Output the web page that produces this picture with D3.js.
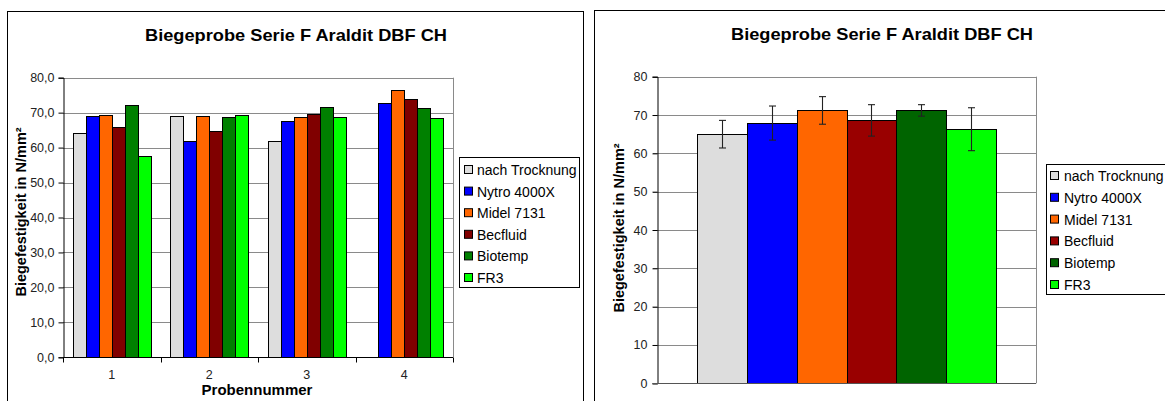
<!DOCTYPE html>
<html>
<head>
<meta charset="utf-8">
<script src="https://cdn.jsdelivr.net/npm/d3@7"></script>
<style>
  html, body { margin: 0; padding: 0; background: #fff; }
  svg { display: block; font-family: "Liberation Sans", Arial, sans-serif; }
</style>
</head>
<body>
<svg id="chart" width="1165" height="401"></svg>
<script>
// Series names (oils) and sample numbers
const seriesNames = ["nach Trocknung", "Nytro 4000X", "Midel 7131", "Becfluid", "Biotemp", "FR3"];
const probeLabels = ["1", "2", "3", "4"];

// Bending strength per sample, one array per series (N/mm²)
const nachTrocknung = [64.1, 69.1, 61.8, null];
const nytro4000X    = [69.1, 61.8, 67.5, 72.7];
const midel7131     = [69.4, 69.1, 68.8, 76.5];
const becfluid      = [65.8, 64.8, 69.6, 73.8];
const biotemp       = [72.1, 68.8, 71.5, 71.2];
const fr3           = [57.5, 69.4, 68.7, 68.4];

// Mean values and standard deviations per series
const meanValues = [65.0, 67.9, 71.2, 68.6, 71.2, 66.3];
const stdValues  = [3.6, 4.45, 3.6, 4.1, 1.5, 5.6];

const yTicksLeft  = [0, 10, 20, 30, 40, 50, 60, 70, 80];
const yTicksRight = [0, 10, 20, 30, 40, 50, 60, 70, 80];

const colorsLeft  = ["#dddddd", "#0000ff", "#ff6600", "#800000", "#008000", "#00ff00"];
const colorsRight = ["#dddddd", "#0000ff", "#ff6600", "#990000", "#006400", "#00ff00"];

const perSample = [nachTrocknung, nytro4000X, midel7131, becfluid, biotemp, fr3];

const svg = d3.select("#chart");
svg.append("rect").attr("width", 1165).attr("height", 401).attr("fill", "#fff");

const title = "Biegeprobe Serie F Araldit DBF CH";
const yTitle = "Biegefestigkeit in N/mm²";
const fmt1 = d => d3.format(".1f")(d).replace(".", ",");

function legend(g, x, y, w, h, colors, x0sw, xText, y0, step) {
  g.append("rect").attr("x", x).attr("y", y).attr("width", w).attr("height", h)
    .attr("fill", "#fff").attr("stroke", "#000").attr("stroke-width", 1);
  seriesNames.forEach((name, i) => {
    const cy = y0 + i * step;
    g.append("rect").attr("x", x0sw + 0.5).attr("y", cy - 4.5).attr("width", 8).attr("height", 8)
      .attr("fill", colors[i]).attr("stroke", "#000").attr("stroke-width", 1);
    g.append("text").attr("x", xText).attr("y", cy).attr("dy", "0.36em")
      .attr("font-size", 14).attr("fill", "#000").text(name);
  });
}

// ---------- Left chart: values per sample ----------
{
  const g = svg.append("g");
  g.append("rect").attr("x", 7.5).attr("y", 11.5).attr("width", 576).attr("height", 420)
    .attr("fill", "#fff").attr("stroke", "#000").attr("stroke-width", 1);

  g.append("text").attr("x", 296).attr("y", 41).attr("text-anchor", "middle")
    .attr("font-size", 17).attr("font-weight", "bold")
    .attr("textLength", 302).attr("lengthAdjust", "spacingAndGlyphs").text(title);

  const x = d3.scaleBand().domain(probeLabels).range([63, 453]).padding(0);
  const x1 = d3.scaleBand().domain(seriesNames)
    .range([x.bandwidth() * 0.1, x.bandwidth() * 0.9]).padding(0);
  const y = d3.scaleLinear().domain([0, 80]).range([357.3, 77.7]);

  // grid
  g.selectAll(".grid").data(yTicksLeft.slice(1)).join("line")
    .attr("x1", 63).attr("x2", 453)
    .attr("y1", d => Math.round(y(d)) + 0.5).attr("y2", d => Math.round(y(d)) + 0.5)
    .attr("stroke", "#8a8a8a").attr("stroke-width", 1);
  g.append("line").attr("x1", 453.5).attr("x2", 453.5).attr("y1", y(80)).attr("y2", y(0))
    .attr("stroke", "#8a8a8a");

  // bars
  seriesNames.forEach((s, si) => {
    g.selectAll(".bar" + si).data(probeLabels.map((p, pi) => ({ p, v: perSample[si][pi] }))
      .filter(d => d.v != null)).join("rect")
      .attr("x", d => Math.round(x(d.p) + x1(s)) + 0.5)
      .attr("y", d => Math.round(y(d.v)) + 0.5)
      .attr("width", Math.round(x1.bandwidth()))
      .attr("height", d => Math.round(y(0)) - Math.round(y(d.v)))
      .attr("fill", colorsLeft[si]).attr("stroke", "#000").attr("stroke-width", 1);
  });

  // y axis
  const yAx = g.append("g").attr("transform", "translate(63.5,0)")
    .call(d3.axisLeft(y).tickValues(yTicksLeft).tickSize(5).tickPadding(4).tickFormat(fmt1));
  yAx.select(".domain").attr("stroke", "#000");
  yAx.selectAll(".tick line").attr("stroke", "#000");
  yAx.selectAll("text").attr("font-size", 12.5).attr("fill", "#222").attr("font-family", "Liberation Sans, Arial");

  // x axis with ticks at category boundaries
  const xAx = g.append("g").attr("transform", `translate(0,${Math.round(y(0)) + 0.5})`);
  xAx.append("line").attr("x1", 63).attr("x2", 453).attr("stroke", "#000");
  const bounds = probeLabels.map(p => x(p)).concat([x.range()[1]]);
  xAx.selectAll(".xt").data(bounds).join("line")
    .attr("x1", d => Math.round(d) + 0.5).attr("x2", d => Math.round(d) + 0.5)
    .attr("y1", 0).attr("y2", 5).attr("stroke", "#000");
  xAx.selectAll(".xl").data(probeLabels).join("text")
    .attr("x", d => x(d) + x.bandwidth() / 2).attr("y", 21.5)
    .attr("text-anchor", "middle").attr("font-size", 12.5).attr("fill", "#222").text(d => d);

  g.append("text").attr("x", 257).attr("y", 395).attr("text-anchor", "middle")
    .attr("font-size", 15).attr("font-weight", "bold").text("Probennummer");

  g.append("text").attr("transform", "translate(26,212) rotate(-90)")
    .attr("text-anchor", "middle").attr("font-size", 14.5).attr("font-weight", "bold").text(yTitle);

  legend(g, 459.5, 157.5, 120, 130, colorsLeft, 464, 477, 170, 21.6);
}

// ---------- Right chart: mean values with standard deviation ----------
{
  const g = svg.append("g");
  g.append("rect").attr("x", 594.5).attr("y", 10.5).attr("width", 620).attr("height", 420)
    .attr("fill", "#fff").attr("stroke", "#000").attr("stroke-width", 1);

  g.append("text").attr("x", 882).attr("y", 40).attr("text-anchor", "middle")
    .attr("font-size", 17).attr("font-weight", "bold")
    .attr("textLength", 302).attr("lengthAdjust", "spacingAndGlyphs").text(title);

  const x = d3.scaleBand().domain(seriesNames).range([657, 1036]).paddingOuter(0.8).paddingInner(0);
  const y = d3.scaleLinear().domain([0, 80]).range([383.3, 76.7]);

  g.selectAll(".grid").data(yTicksRight.slice(1)).join("line")
    .attr("x1", 653).attr("x2", 1036)
    .attr("y1", d => Math.round(y(d)) + 0.5).attr("y2", d => Math.round(y(d)) + 0.5)
    .attr("stroke", "#8a8a8a").attr("stroke-width", 1);
  g.append("line").attr("x1", 1036.5).attr("x2", 1036.5).attr("y1", y(80)).attr("y2", y(0))
    .attr("stroke", "#8a8a8a");

  g.selectAll(".bar").data(seriesNames).join("rect")
    .attr("x", d => Math.round(x(d)) + 0.5)
    .attr("y", (d, i) => Math.round(y(meanValues[i])) + 0.5)
    .attr("width", Math.round(x.bandwidth()))
    .attr("height", (d, i) => Math.round(y(0)) - Math.round(y(meanValues[i])))
    .attr("fill", (d, i) => colorsRight[i]).attr("stroke", "#000").attr("stroke-width", 1);

  // error bars
  const eb = g.selectAll(".err").data(seriesNames).join("g")
    .attr("transform", d => `translate(${Math.round(x(d) + x.bandwidth() / 2) + 0.5},0)`);
  eb.append("line").attr("y1", (d, i) => y(meanValues[i] + stdValues[i]))
    .attr("y2", (d, i) => y(meanValues[i] - stdValues[i])).attr("stroke", "#222").attr("stroke-width", 1.1);
  eb.append("line").attr("x1", -3.5).attr("x2", 3.5)
    .attr("y1", (d, i) => y(meanValues[i] + stdValues[i])).attr("y2", (d, i) => y(meanValues[i] + stdValues[i]))
    .attr("stroke", "#222").attr("stroke-width", 1.1);
  eb.append("line").attr("x1", -3.5).attr("x2", 3.5)
    .attr("y1", (d, i) => y(meanValues[i] - stdValues[i])).attr("y2", (d, i) => y(meanValues[i] - stdValues[i]))
    .attr("stroke", "#222").attr("stroke-width", 1.1);

  const yAx = g.append("g").attr("transform", "translate(657.5,0)")
    .call(d3.axisLeft(y).tickValues(yTicksRight).tickSize(5).tickPadding(5).tickFormat(d3.format("d")));
  yAx.select(".domain").attr("stroke", "#000");
  yAx.selectAll(".tick line").attr("stroke", "#000");
  yAx.selectAll("text").attr("font-size", 12.5).attr("fill", "#222").attr("font-family", "Liberation Sans, Arial");

  g.append("line").attr("x1", 653).attr("x2", 1036)
    .attr("y1", Math.round(y(0)) + 0.5).attr("y2", Math.round(y(0)) + 0.5).attr("stroke", "#555");

  g.append("text").attr("transform", "translate(624,228) rotate(-90)")
    .attr("text-anchor", "middle").attr("font-size", 14.5).attr("font-weight", "bold").text(yTitle);

  legend(g, 1046.5, 164.5, 130, 130, colorsRight, 1050, 1064, 176, 21.8);
}
</script>
</body>
</html>
